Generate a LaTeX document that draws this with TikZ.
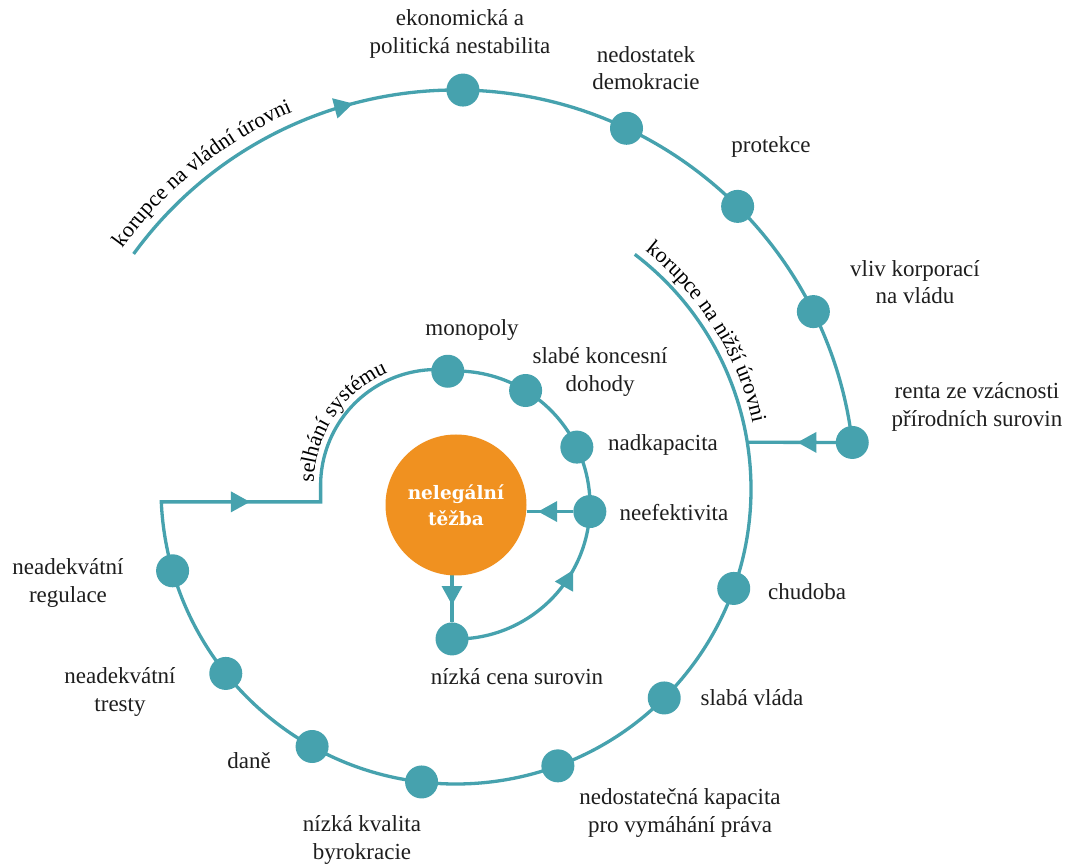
\documentclass[tikz,border=0pt]{standalone}
\usepackage{fontspec}
\setmainfont{Liberation Serif}
\newfontfamily\headfont{DejaVu Serif}
\usetikzlibrary{arrows.meta,decorations.markings,decorations.text,calc,backgrounds}
\definecolor{tealc}{HTML}{46A2AE}
\definecolor{orangec}{HTML}{F09120}
\definecolor{textc}{HTML}{1E1E1E}
\newcommand\lblfont{\fontsize{23}{27.3}\selectfont}
\newcommand\curvefont{\fontsize{22}{26}\selectfont}
\begin{document}
\begin{tikzpicture}[x=1pt,y=1pt,
  flow/.style={draw=tealc, line width=3.3pt},
  dot/.style={circle, fill=tealc, minimum size=33pt, inner sep=0pt, outer sep=0pt},
  lbl/.style={font=\lblfont, align=center, inner sep=0pt, text=textc},
  tipmark/.style={postaction={decorate, decoration={markings,
      mark=at position #1 with {\arrow{Triangle[length=19pt,width=20pt,color=tealc]}}}}},
  curvetext/.style={decorate, decoration={text along path, text={|\curvefont|#1}, text align=center}}
]
\useasboundingbox (0,0) rectangle (1066,863);
\coordinate (C) at (456,374);
\coordinate (I) at (456,358);
\coordinate (S) at (436.6,377.5);
% outer spiral dots
\foreach \n/\a in {eko/89, nedo/64.7, prot/45.1, vliv/26.4, renta/6.7}
  \node[dot] (\n) at ($(C)+(\a:399)$) {};
% middle spiral dots
\foreach \n/\a in {chud/-19.7, slaba/-45.1, nedost/-69.8, kval/-96.7, dane/-119.2, tresty/-141.3, regul/-163.9}
  \node[dot] (\n) at ($(C)+(\a:295)$) {};
% inner spiral dots
\foreach \n/\a in {mono/93.5, slabe/58.7, nadk/25.6, neef/-2.8, nizka/-91.7}
  \node[dot] (\n) at ($(I)+(\a:134)$) {};
% centre
\node[circle, fill=orangec, minimum size=141pt, inner sep=0pt, outer sep=0pt, text=white,
      font=\headfont\bfseries\fontsize{18.5}{26}\selectfont, align=center] (tez) at (I) {nelegální\\těžba};
% helper coordinates
\coordinate (outStart) at ($(C)+(143.9:399)$);
\coordinate (midStart) at ($(C)+(52.7:295)$);
\coordinate (corner) at ($(C)+(-177.5:295)$);
\coordinate (selB) at ($(S)+(180:116)$);
\coordinate (junc) at ($(C)+(9.11:295)$);
\begin{scope}[on background layer]
\fill[white] (0,0) rectangle (1066,863);
\draw[flow, tipmark=0.284] (outStart) arc[start angle=143.9, end angle=6.7, radius=399pt];
\draw[flow, tipmark=-279.3pt, line join=miter] (midStart) arc[start angle=52.7, end angle=-177.5, radius=295pt]
   -- (selB |- corner) -- (selB) arc[start angle=180, end angle=85, radius=116pt];
\draw[flow] (mono.center) arc[start angle=93.5, end angle=-2.8, radius=134pt];
\draw[flow, tipmark=0.705] (nizka.center) arc[start angle=-91.7, end angle=-2.8, radius=134pt];
\draw[flow, tipmark=0.434] (renta) -- (junc);
\draw[flow, tipmark=0.754] (neef) -- (tez.east |- neef.center);
\draw[flow, tipmark=0.629] (tez.south -| nizka.center) -- (nizka);
\end{scope}
% curved labels
\path[curvetext={korupce na vládní úrovni}] ($(C)+(152:411)$) arc[start angle=152, end angle=105.6, radius=411pt];
\path[curvetext={korupce na nižší úrovni}] ($(C)+(60:304)$) arc[start angle=60, end angle=4, radius=304pt];
\path[curvetext={selhání systému}] ($(S)+(190:123)$) arc[start angle=190, end angle=102, radius=123pt];
% labels
\node[lbl] (Leko) at (460,829) {ekonomická a\\politická nestabilita};
\node[lbl] (Lnedo) at (646,795) {nedostatek\\demokracie};
\node[lbl] (Lprot) at (771,716) {protekce};
\node[lbl] (Lvliv) at (915,581) {vliv korporací\\na vládu};
\node[lbl] (Lrenta) at (977,456) {renta ze vzácnosti\\přírodních surovin};
\node[lbl] (Lmono) at (472,533) {monopoly};
\node[lbl] (Lslabe) at (600,491) {slabé koncesní\\dohody};
\node[lbl] (Lnadk) at (663,418) {nadkapacita};
\node[lbl] (Lneef) at (674,350) {neefektivita};
\node[lbl] (Lchud) at (807,271) {chudoba};
\node[lbl] (Lslaba) at (752,165) {slabá vláda};
\node[lbl] (Lnedost) at (680,50) {nedostatečná kapacita\\pro vymáhání práva};
\node[lbl] (Lnizka) at (517,186) {nízká cena surovin};
\node[lbl] (Lkval) at (362,23) {nízká kvalita\\byrokracie};
\node[lbl] (Ldane) at (249,102) {daně};
\node[lbl] (Ltresty) at (120,171) {neadekvátní\\tresty};
\node[lbl] (Lregul) at (68,280) {neadekvátní\\regulace};
\end{tikzpicture}
\end{document}
